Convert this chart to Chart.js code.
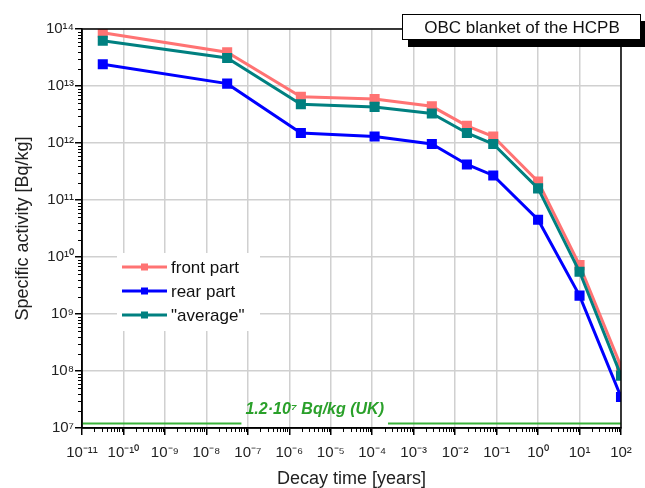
<!DOCTYPE html>
<html>
<head>
<meta charset="utf-8">
<script src="https://cdn.jsdelivr.net/npm/chart.js@4"></script>
<style>
  html, body { margin: 0; padding: 0; background: #fff; }
  #wrap { width: 645px; height: 488px; }
</style>
</head>
<body>
<div id="wrap"><canvas id="chart" width="645" height="488"></canvas></div>
<script>
// decay times in years (1 ms, 1 s, 1 min, 1 h, 1 d, 1 week, 1 month, 1 y, 10 y, 100 y)
const decayYears = [3.17e-11, 3.17e-8, 1.9e-6, 1.14e-4, 2.74e-3, 1.92e-2, 8.3e-2, 1, 10, 100];
const frontPart = [8.6e13, 3.9e13, 6.5e12, 5.9e12, 4.4e12, 2.0e12, 1.3e12, 2.1e11, 7.2e9, 1.2e8];
const rearPart = [2.4e13, 1.1e13, 1.5e12, 1.3e12, 9.6e11, 4.2e11, 2.7e11, 4.5e10, 2.1e9, 3.5e7];
const averagePart = [6.2e13, 3.1e13, 4.8e12, 4.3e12, 3.3e12, 1.5e12, 9.6e11, 1.6e11, 5.5e9, 8.3e7];

// UK clearance limit line, broken where its label sits
const ukLimit = 1.2e7;
const limitX = [1e-11, 7e-8, 1e-5, 2.4e-4, 100];
const limitY = [ukLimit, ukLimit, null, ukLimit, ukLimit];
const limitLabel = '1.2·10⁷ Bq/kg (UK)';

const xTickLabels = ['10⁻¹¹', '10⁻¹⁰', '10⁻⁹', '10⁻⁸', '10⁻⁷', '10⁻⁶', '10⁻⁵', '10⁻⁴', '10⁻³', '10⁻²', '10⁻¹', '10⁰', '10¹', '10²'];
const yTickLabels = ['10⁷', '10⁸', '10⁹', '10¹⁰', '10¹¹', '10¹²', '10¹³', '10¹⁴'];
const xDecades = xTickLabels.map((_, i) => Math.pow(10, i - 11));
const yDecades = yTickLabels.map((_, i) => Math.pow(10, i + 7));

const titleText = 'OBC blanket of the HCPB';
const fontFamily = '"Liberation Sans", Arial, sans-serif';

function toPoints(xs, ys) {
    return xs.map((x, i) => ({ x: x, y: ys[i] }));
}

// minor log ticks, legend, limit label and the title box
const decorPlugin = {
    id: 'decor',
    afterDatasetsDraw(chart) {
        const ctx = chart.ctx;
        const xs = chart.scales.x;
        const ys = chart.scales.y;
        const area = chart.chartArea;
        ctx.save();

        // frame
        ctx.strokeStyle = '#000';
        ctx.lineWidth = 1.5;
        ctx.strokeRect(area.left, area.top, area.right - area.left, area.bottom - area.top);

        // minor ticks
        ctx.lineWidth = 1;
        ctx.beginPath();
        for (let e = -11; e < 2; e++) {
            for (let m = 2; m < 10; m++) {
                const px = Math.round(xs.getPixelForValue(m * Math.pow(10, e))) + 0.5;
                ctx.moveTo(px, area.bottom);
                ctx.lineTo(px, area.bottom + 4);
            }
        }
        for (let e = 7; e < 14; e++) {
            for (let m = 2; m < 10; m++) {
                const py = Math.round(ys.getPixelForValue(m * Math.pow(10, e))) + 0.5;
                ctx.moveTo(area.left, py);
                ctx.lineTo(area.left - 4, py);
            }
        }
        ctx.stroke();

        // limit label
        const gapL = xs.getPixelForValue(limitX[1]);
        const gapR = xs.getPixelForValue(limitX[3]);
        ctx.fillStyle = '#2aa02a';
        ctx.font = 'italic bold 16px ' + fontFamily;
        ctx.textAlign = 'center';
        ctx.textBaseline = 'alphabetic';
        ctx.fillText(limitLabel, (gapL + gapR) / 2, ys.getPixelForValue(ukLimit) - 9);

        // legend
        const legendItems = chart.data.datasets.filter(d => d.inLegend);
        ctx.fillStyle = '#fff';
        ctx.fillRect(117, 253, 143, 78);
        ctx.font = '17px ' + fontFamily;
        ctx.textAlign = 'left';
        ctx.textBaseline = 'middle';
        legendItems.forEach((d, i) => {
            const y = 267 + i * 24;
            ctx.strokeStyle = d.borderColor;
            ctx.lineWidth = 3;
            ctx.beginPath();
            ctx.moveTo(122, y);
            ctx.lineTo(167, y);
            ctx.stroke();
            ctx.fillStyle = d.borderColor;
            ctx.fillRect(141, y - 3.5, 7, 7);
            ctx.fillStyle = '#111';
            ctx.fillText(d.label, 171, y + 1);
        });

        // title box with shadow
        ctx.fillStyle = '#000';
        ctx.fillRect(408, 21, 240, 26);
        ctx.fillStyle = '#fff';
        ctx.fillRect(402, 14, 239, 26);
        ctx.strokeStyle = '#000';
        ctx.lineWidth = 1;
        ctx.strokeRect(402.5, 14.5, 238, 25);
        ctx.fillStyle = '#111';
        ctx.font = '17px ' + fontFamily;
        ctx.textAlign = 'center';
        ctx.fillText(titleText, 522, 28);

        ctx.restore();
    }
};

new Chart(document.getElementById('chart'), {
    type: 'line',
    data: {
        datasets: [{
            label: 'front part',
            data: toPoints(decayYears, frontPart),
            borderColor: '#ff7373',
            backgroundColor: '#ff7373',
            order: 2,
            inLegend: true
        }, {
            label: 'rear part',
            data: toPoints(decayYears, rearPart),
            borderColor: '#0000ff',
            backgroundColor: '#0000ff',
            order: 1,
            inLegend: true
        }, {
            label: '"average"',
            data: toPoints(decayYears, averagePart),
            borderColor: '#008080',
            backgroundColor: '#008080',
            order: 0,
            inLegend: true
        }, {
            label: 'UK limit',
            data: toPoints(limitX, limitY),
            borderColor: '#3cb43c',
            borderWidth: 2,
            pointRadius: 0,
            spanGaps: false,
            order: 3,
            inLegend: false
        }]
    },
    options: {
        responsive: false,
        animation: false,
        layout: { padding: { top: 29, right: 24, left: 0, bottom: 0 } },
        datasets: {
            line: {
                borderWidth: 3,
                pointStyle: 'rect',
                pointRadius: 5,
                tension: 0
            }
        },
        plugins: {
            legend: { display: false },
            tooltip: { enabled: false }
        },
        scales: {
            x: {
                type: 'logarithmic',
                min: 1e-11,
                max: 100,
                afterBuildTicks: (scale) => { scale.ticks = xDecades.map(v => ({ value: v })); },
                afterFit: (scale) => { scale.height = 60; },
                ticks: {
                    autoSkip: false,
                    maxRotation: 0,
                    padding: 9,
                    color: '#222',
                    font: { family: fontFamily, size: 15 },
                    callback: (v) => xTickLabels[Math.round(Math.log10(v)) + 11]
                },
                grid: { color: '#d0d0d0', lineWidth: 1.5, tickColor: '#000', tickLength: 7 },
                border: { color: '#000', width: 1.5 },
                title: {
                    display: true,
                    text: 'Decay time [years]',
                    color: '#222',
                    font: { family: fontFamily, size: 18 },
                    padding: { top: 0, bottom: -2 }
                }
            },
            y: {
                type: 'logarithmic',
                min: 1e7,
                max: 1e14,
                afterBuildTicks: (scale) => { scale.ticks = yDecades.map(v => ({ value: v })); },
                afterFit: (scale) => { scale.width = 82; },
                ticks: {
                    autoSkip: false,
                    padding: 1,
                    color: '#222',
                    font: { family: fontFamily, size: 15 },
                    callback: (v) => yTickLabels[Math.round(Math.log10(v)) - 7]
                },
                grid: { color: '#d0d0d0', lineWidth: 1.5, tickColor: '#000', tickLength: 7 },
                border: { color: '#000', width: 1.5 },
                title: {
                    display: true,
                    text: 'Specific activity [Bq/kg]',
                    color: '#222',
                    font: { family: fontFamily, size: 18 },
                    padding: { top: 12, bottom: 0 }
                }
            }
        }
    },
    plugins: [decorPlugin]
});
</script>
</body>
</html>
